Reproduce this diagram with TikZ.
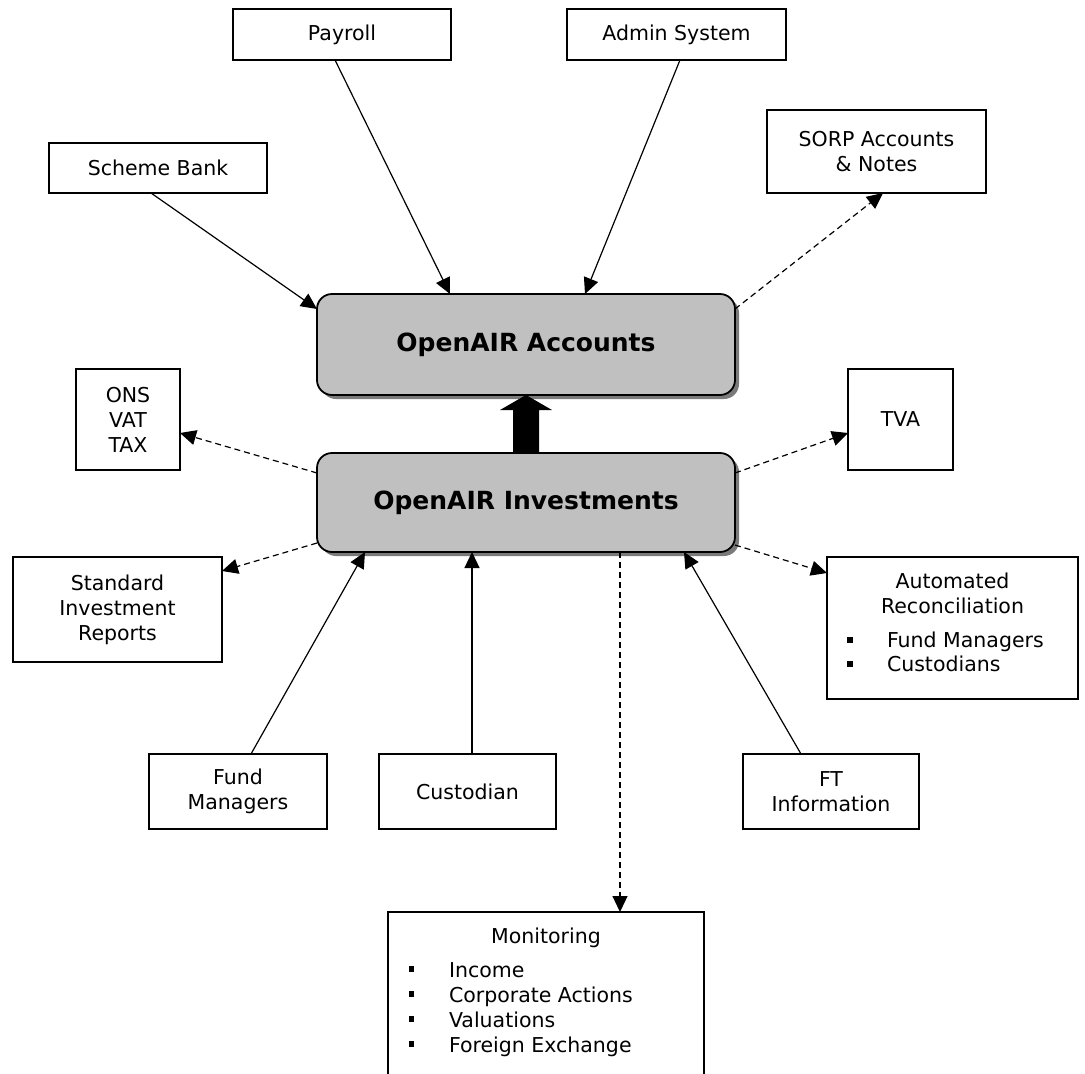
\documentclass[tikz,border=0pt]{standalone}
\usepackage{fontspec}
\setmainfont{DejaVu Sans}
\usetikzlibrary{arrows.meta,shadows}
\newcommand{\fsnorm}{\fontsize{20.5}{25}\selectfont}
\newcommand{\fsbig}{\fontsize{25}{30}\selectfont\bfseries}
\definecolor{mgray}{HTML}{C0C0C0}
\definecolor{sgray}{HTML}{7A7A7A}
\begin{document}
\begin{tikzpicture}[x=1pt,y=-1pt,
  box/.style={draw, line width=1.6pt, inner sep=0pt, outer sep=0pt, align=center, font=\fsnorm},
  mainbox/.style={draw, line width=1.8pt, rounded corners=15pt, fill=mgray, inner sep=0pt, outer sep=0pt, minimum width=418pt, font=\fsbig, drop shadow={shadow xshift=4pt, shadow yshift=-4pt, fill=sgray, opacity=1}},
  conn/.style={line width=1.2pt, -{Triangle[length=16pt,width=15pt]}},
  dconn/.style={conn, dash pattern=on 6pt off 4pt},
  txt/.style={inner sep=0pt, outer sep=0pt, font=\fsnorm},
  bul/.style={fill=black, inner sep=0pt, outer sep=0pt, minimum size=5.5pt}
]
\useasboundingbox (0,0) rectangle (1085,1074);
\clip (0,0) rectangle (1085,1074);
\fill[white] (0,0) rectangle (1085,1074);

% boxes
\node[box, minimum width=218pt, minimum height=51pt] (payroll) at (342,34.5) {Payroll};
\node[box, minimum width=219pt, minimum height=51pt] (admin) at (676.5,34.5) {Admin System};
\node[box, minimum width=218pt, minimum height=50pt] (scheme) at (158,168) {Scheme Bank};
\node[box, minimum width=219pt, minimum height=83pt] (sorp) at (876.5,151.5) {SORP Accounts\\\& Notes};
\node[mainbox, minimum height=101pt] (acc) at (526,344.5) {OpenAIR Accounts};
\node[mainbox, minimum height=99pt] (inv) at (526,502.5) {OpenAIR Investments};
\node[box, minimum width=104pt, minimum height=101pt] (ons) at (128,419.5) {ONS\\VAT\\TAX};
\node[box, minimum width=105pt, minimum height=101pt] (tva) at (900.5,419.5) {TVA};
\node[box, minimum width=209pt, minimum height=105pt] (std) at (117.5,609.5) {Standard\\Investment\\Reports};
\node[box, minimum width=251pt, minimum height=142pt] (auto) at (952.5,628) {};
\node[box, minimum width=178pt, minimum height=75pt] (fund) at (238,791.5) {Fund\\Managers};
\node[box, minimum width=177pt, minimum height=75pt] (cust) at (467.5,791.5) {Custodian};
\node[box, minimum width=176pt, minimum height=75pt] (ft) at (831,791.5) {FT\\Information};
\node[box, minimum width=316pt, minimum height=200pt, anchor=north] (mon) at (546,912) {};

% automated reconciliation text
\node[txt, anchor=base] (autot1) at (952.5,588) {Automated};
\node[txt, anchor=base] (autot2) at (952.5,613) {Reconciliation};
\node[bul] (ab1) at (850,640) {};
\node[txt, anchor=base west] (ai1) at (887,647) {Fund Managers};
\node[bul] (ab2) at (850,664) {};
\node[txt, anchor=base west] (ai2) at (887,671) {Custodians};

% monitoring text
\node[txt, anchor=base] (mont) at (546,943) {Monitoring};
\node[bul] (mb1) at (411.5,969) {};
\node[txt, anchor=base west] (mi1) at (449,977) {Income};
\node[bul] (mb2) at (411.5,994) {};
\node[txt, anchor=base west] (mi2) at (449,1002) {Corporate Actions};
\node[bul] (mb3) at (411.5,1019) {};
\node[txt, anchor=base west] (mi3) at (449,1027) {Valuations};
\node[bul] (mb4) at (411.5,1044) {};
\node[txt, anchor=base west] (mi4) at (449,1052) {Foreign Exchange};

% connectors
\draw[conn] ([xshift=102pt]scheme.south west) -- ([yshift=-15pt]acc.north west);
\draw[conn] ([xshift=102pt]payroll.south west) -- ([xshift=133pt]acc.north west);
\draw[conn] ([xshift=113pt]admin.south west) -- ([xshift=268pt]acc.north west);
\draw[dconn] ([yshift=-15pt]acc.north east) -- ([xshift=116pt]sorp.south west);
\draw[dconn] ([yshift=-20pt]inv.north west) -- ([yshift=-13.5pt]ons.east);
\draw[dconn] ([yshift=-20pt]inv.north east) -- ([yshift=-13.5pt]tva.west);
\draw[dconn] ([yshift=9pt]inv.south west) -- ([yshift=-14pt]std.north east);
\draw[dconn] ([yshift=7pt]inv.south east) -- ([yshift=-16pt]auto.north west);
\draw[conn] ([xshift=102pt]fund.north west) -- ([xshift=48pt]inv.south west);
\draw[conn] ([xshift=93pt]cust.north west) -- ([xshift=155pt]inv.south west);
\draw[conn] ([xshift=58pt]ft.north west) -- ([xshift=367pt]inv.south west);
\draw[dconn] ([xshift=303pt]inv.south west) -- ([xshift=232pt]mon.north west);

% thick block arrow
\fill ([xshift=-13pt]inv.north) -- ([xshift=-13pt,yshift=-15pt]acc.south) -- ([xshift=-26pt,yshift=-15pt]acc.south) -- (acc.south) -- ([xshift=26pt,yshift=-15pt]acc.south) -- ([xshift=13pt,yshift=-15pt]acc.south) -- ([xshift=13pt]inv.north) -- cycle;
\end{tikzpicture}
\end{document}
